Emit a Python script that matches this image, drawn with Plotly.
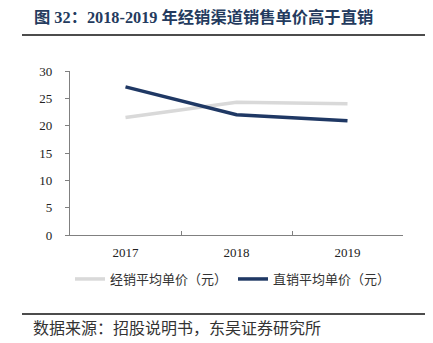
import plotly.graph_objects as go

years = ["2017", "2018", "2019"]
dealer_price = [21.5, 24.3, 24.0]
direct_price = [27.1, 22.0, 20.9]
y_ticks = [0, 5, 10, 15, 20, 25, 30]

W, H = 433, 343
L, R, T, B = 70, 30, 71, 108
PW, PH = W - L - R, H - T - B

def px(x):
    return (x - L) / PW

def py(y):
    return (H - B - y) / PH

fig = go.Figure()
fig.add_trace(go.Scatter(x=years, y=dealer_price, mode="lines", name="经销平均单价（元）",
                         line=dict(color="#D9D9D9", width=3.5)))
fig.add_trace(go.Scatter(x=years, y=direct_price, mode="lines", name="直销平均单价（元）",
                         line=dict(color="#1F3864", width=3.5)))

fig.update_layout(
    width=W, height=H,
    margin=dict(l=L, r=R, t=T, b=B),
    paper_bgcolor="white", plot_bgcolor="white",
    showlegend=True,
    legend=dict(orientation="h", x=0, y=py(279), xanchor="left", yanchor="middle",
                font=dict(family="Noto Sans CJK SC", size=13, color="#333333"),
                itemwidth=30, entrywidth=118, tracegroupgap=0, bgcolor="rgba(0,0,0,0)"),
    font=dict(family="Liberation Serif, Noto Sans CJK SC", size=13, color="#222222"),
)
fig.update_xaxes(type="category", range=[-0.5, 2.5], tickson="boundaries",
                 ticks="inside", ticklen=4, tickcolor="#808080",
                 showline=True, linecolor="#808080", linewidth=1.2,
                 showgrid=False, zeroline=False,
                 tickfont=dict(family="Liberation Serif", size=13, color="#222222"),
                 ticklabelstandoff=5)
fig.update_yaxes(range=[0, 30], tickvals=y_ticks, ticks="outside", ticklen=4,
                 tickcolor="#808080", showline=True, linecolor="#808080", linewidth=1.2,
                 showgrid=False, zeroline=False,
                 tickfont=dict(family="Liberation Serif", size=13, color="#222222"),
                 ticklabelstandoff=10)

# title and source
fig.add_annotation(xref="paper", yref="paper", x=px(32), y=py(18), xanchor="left", yanchor="middle",
                   text="<b>图 32：2018-2019 年经销渠道销售单价高于直销</b>", showarrow=False,
                   font=dict(family="Liberation Serif, Noto Sans CJK SC", size=16.3, color="#243B5E"))
fig.add_annotation(xref="paper", yref="paper", x=px(31), y=py(327), xanchor="left", yanchor="middle",
                   text="数据来源：招股说明书，东吴证券研究所", showarrow=False,
                   font=dict(family="Noto Sans CJK SC", size=16, color="#333333"))
fig.add_shape(type="line", xref="paper", yref="paper", x0=px(22), x1=px(425), y0=py(35), y1=py(35),
              line=dict(color="#111111", width=1.5))
fig.add_shape(type="line", xref="paper", yref="paper", x0=px(22), x1=px(425), y0=py(314), y1=py(314),
              line=dict(color="#111111", width=1.5))

fig.write_html("out.html")
